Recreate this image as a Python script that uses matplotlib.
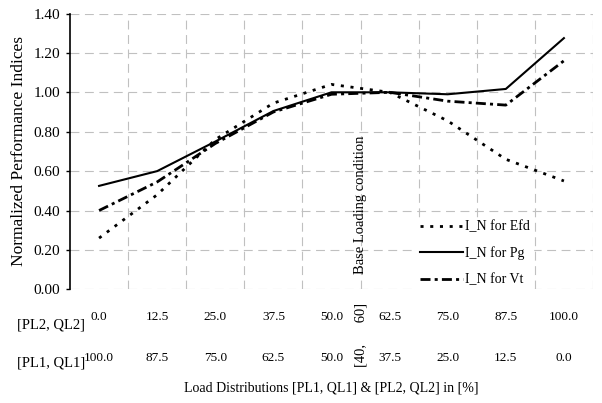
import matplotlib
matplotlib.use("Agg")
import matplotlib.pyplot as plt
import matplotlib.transforms as mtransforms
import numpy as np

plt.rcParams["font.family"] = ["Liberation Serif", "DejaVu Serif"]

# load shares per case
pl2_ql2 = ["0.0", "12.5", "25.0", "37.5", "50.0", "62.5", "75.0", "87.5", "100.0"]
pl1_ql1 = ["100.0", "87.5", "75.0", "62.5", "50.0", "37.5", "25.0", "12.5", "0.0"]

# normalized indices
in_efd = [0.26, 0.48, 0.76, 0.945, 1.04, 1.00, 0.855, 0.66, 0.55]
in_pg = [0.525, 0.60, 0.75, 0.905, 1.00, 1.00, 0.99, 1.017, 1.275]
in_vt = [0.40, 0.545, 0.74, 0.90, 0.99, 1.00, 0.955, 0.935, 1.16]

base_label = "[40,      60]"
base_pos = 4.5

fig = plt.figure(figsize=(6.02, 4.03), dpi=100)
ax = fig.add_axes([0.1163, 0.2821, 0.8687, 0.6844])

x = np.arange(len(in_pg))
ax.plot(x, in_efd, color="black", lw=2.0, linestyle=(0, (1.1, 2.4)),
        dash_capstyle="butt", label="I_N for Efd")
ax.plot(x, in_pg, color="black", lw=1.5, linestyle="-", label="I_N for Pg")
ax.plot(x, in_vt, color="black", lw=2.0, linestyle=(0, (3.6, 1.5, 1.1, 1.5)),
        dash_capstyle="butt", label="I_N for Vt")

ax.set_xlim(-0.5, 8.5)
ax.set_ylim(0, 1.4)
ax.set_yticks(np.arange(0, 1.41, 0.2))
ax.set_yticklabels([f"{v:.2f}" for v in np.arange(0, 1.41, 0.2)], fontsize=11)
ax.tick_params(axis="y", direction="out", length=3, width=1, pad=4)

ax.set_xticks([])
ax.set_xticks(np.arange(0.5, 9, 1), minor=True)
ax.tick_params(axis="x", which="both", length=0, labelbottom=False)

for s in ["top", "right", "bottom"]:
    ax.spines[s].set_visible(False)
ax.spines["left"].set_linewidth(1.2)

ax.grid(axis="y", which="major", color="#c0c0c0", lw=0.8, linestyle=(0, (8, 5)))
ax.grid(axis="x", which="minor", color="#c0c0c0", lw=0.8, linestyle=(0, (8, 5)))
ax.set_axisbelow(True)

ax.set_ylabel("Normalized Performance Indices", fontsize=12.5)
ax.yaxis.set_label_coords(-0.082, 0.5)

# two rows of load labels under the plot
trans = mtransforms.blended_transform_factory(ax.transData, fig.transFigure)
for i in range(len(pl2_ql2)):
    ax.text(i, 0.2134, pl2_ql2[i], transform=trans, ha="center", va="center", fontsize=9.5)
    ax.text(i, 0.1117, pl1_ql1[i], transform=trans, ha="center", va="center", fontsize=9.5)
fig.text(0.0847, 0.1935, "[PL2, QL2]", ha="center", va="center", fontsize=10.5)
fig.text(0.0847, 0.0993, "[PL1, QL1]", ha="center", va="center", fontsize=10.5)
ax.text(base_pos, 0.17, base_label, transform=trans, rotation=90,
        ha="center", va="center", fontsize=10.5)
ax.text(base_pos, 0.428, "Base Loading condition", rotation=90,
        ha="center", va="center", fontsize=10.5)

fig.text(0.5507, 0.0372, "Load Distributions [PL1, QL1] & [PL2, QL2] in [%]",
         ha="center", va="center", fontsize=10)

leg = ax.legend(loc="lower left", bbox_to_anchor=(0.664, 0.0), fontsize=10,
                handlelength=3.1, handletextpad=0.15, labelspacing=0.95,
                borderpad=0.2, borderaxespad=0, frameon=True, fancybox=False)
leg.get_frame().set_facecolor("white")
leg.get_frame().set_edgecolor("white")
leg.get_frame().set_alpha(1)

fig.savefig("out.png", dpi=100)
